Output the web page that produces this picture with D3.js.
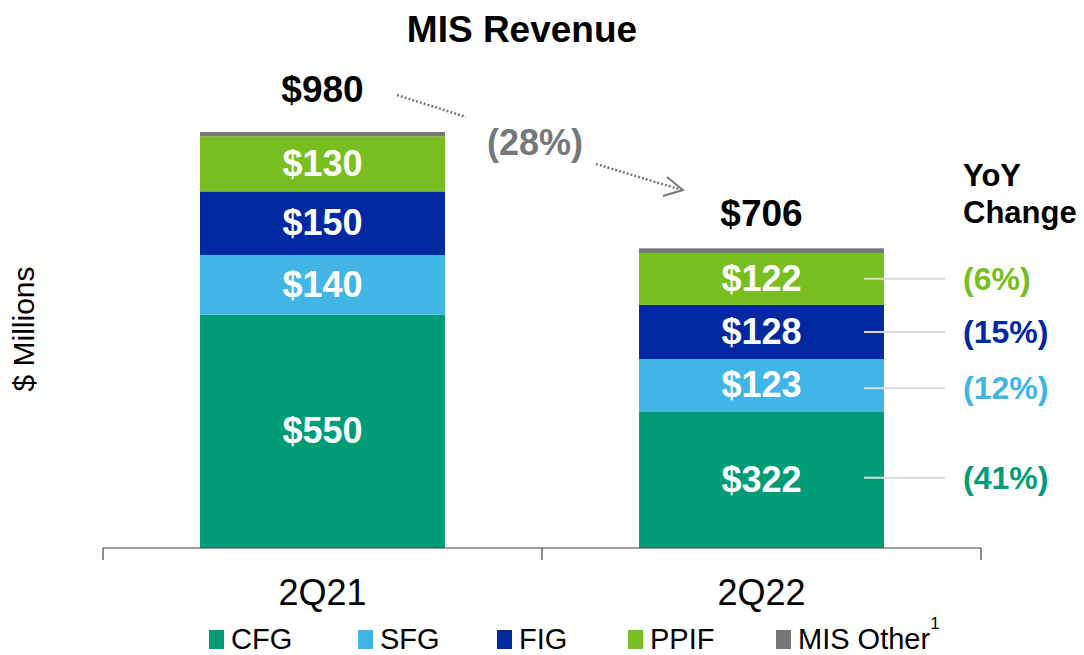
<!DOCTYPE html>
<html>
<head>
<meta charset="utf-8">
<script src="https://cdn.jsdelivr.net/npm/d3@7"></script>
<style>
  body { margin: 0; background: #fff; }
  svg text { font-family: "Liberation Sans", Arial, sans-serif; }
</style>
</head>
<body>
<svg id="chart" width="1084" height="655"></svg>
<script>
// data
var quarters = ["2Q21", "2Q22"]
var segments = ["CFG", "SFG", "FIG", "PPIF", "MIS Other"]
var cfg = [550, 322]
var sfg = [140, 123]
var fig = [150, 128]
var ppif = [130, 122]
var other = [10, 11]
var totals = [980, 706]
var yoyLabels = ["(41%)", "(12%)", "(15%)", "(6%)"]
var totalChange = "(28%)"
var colors = ["#009B77", "#41B6E6", "#0028A0", "#78BE20", "#75787B"]

function drawChart() {
    var svg = d3.select("#chart")

    var rows = quarters.map((q, i) => ({
        quarter: q, CFG: cfg[i], SFG: sfg[i], FIG: fig[i], PPIF: ppif[i], "MIS Other": other[i]
    }))
    var stacked = d3.stack().keys(segments)(rows)

    var xScale = d3.scaleBand()
        .domain(quarters)
        .range([103, 981])
        .paddingInner(0.442)
        .paddingOuter(0.221)
    var yScale = d3.scaleLinear()
        .domain([0, 980])
        .range([548, 132])
    var color = d3.scaleOrdinal().domain(segments).range(colors)

    // title
    svg.append("text")
        .attr("x", 522).attr("y", 42)
        .attr("text-anchor", "middle")
        .style("font-size", "37px").style("font-weight", "bold")
        .text("MIS Revenue")

    // y axis label
    svg.append("text")
        .attr("transform", "translate(34,329) rotate(-90)")
        .attr("text-anchor", "middle")
        .style("font-size", "30px")
        .text("$ Millions")

    // bars
    var layer = svg.append("g").selectAll("g")
        .data(stacked)
        .enter().append("g")
        .attr("fill", d => color(d.key))
    layer.selectAll("rect")
        .data(d => d)
        .enter().append("rect")
        .attr("x", d => xScale(d.data.quarter))
        .attr("width", xScale.bandwidth())
        .attr("y", d => yScale(d[1]))
        .attr("height", d => yScale(d[0]) - yScale(d[1]))

    // connector lines + yoy change labels
    var x2 = xScale("2Q22")
    var labelled = stacked.slice(0, 4)
    labelled.forEach((s, k) => {
        var seg = s[1]
        var yl = yScale((seg[0] + seg[1]) / 2)
        if (k == 0) yl -= 2
        if (k == 1) yl += 3
        svg.append("line")
            .attr("x1", x2 + xScale.bandwidth() - 20).attr("x2", 945)
            .attr("y1", yl).attr("y2", yl)
            .attr("stroke", "#D9D9D9").attr("stroke-width", 2)
        svg.append("text")
            .attr("x", 963).attr("y", yl + 11)
            .attr("fill", colors[k])
            .style("font-size", "32px").style("font-weight", "bold")
            .text(yoyLabels[k])
    })

    // segment value labels
    labelled.forEach(s => {
        s.forEach(d => {
            svg.append("text")
                .attr("x", xScale(d.data.quarter) + xScale.bandwidth() / 2)
                .attr("y", yScale((d[0] + d[1]) / 2) + 12)
                .attr("text-anchor", "middle")
                .attr("fill", "#fff")
                .style("font-size", "36px").style("font-weight", "bold")
                .text("$" + (d[1] - d[0]))
        })
    })

    // totals
    var totalGap = [30, 22]
    quarters.forEach((q, i) => {
        svg.append("text")
            .attr("x", xScale(q) + xScale.bandwidth() / 2)
            .attr("y", yScale(totals[i]) - totalGap[i])
            .attr("text-anchor", "middle")
            .style("font-size", "37px").style("font-weight", "bold")
            .text("$" + totals[i])
    })

    // yoy header
    svg.append("text").attr("x", 963).attr("y", 186)
        .style("font-size", "31px").style("font-weight", "bold").text("YoY")
    svg.append("text").attr("x", 963).attr("y", 223)
        .style("font-size", "31px").style("font-weight", "bold").text("Change")

    // total change, dotted arrow
    var grey = "#75787B"
    svg.append("line")
        .attr("x1", 397).attr("y1", 95).attr("x2", 466).attr("y2", 117)
        .attr("stroke", grey).attr("stroke-width", 2.5).attr("stroke-dasharray", "2,2")
    svg.append("line")
        .attr("x1", 596).attr("y1", 164).attr("x2", 682).attr("y2", 190)
        .attr("stroke", grey).attr("stroke-width", 2.5).attr("stroke-dasharray", "2,2")
    svg.append("path")
        .attr("d", d3.line()([[667, 177], [683, 190], [663, 196]]))
        .attr("fill", "none").attr("stroke", grey).attr("stroke-width", 2)
    svg.append("text")
        .attr("x", 535).attr("y", 155)
        .attr("text-anchor", "middle")
        .attr("fill", grey)
        .style("font-size", "36px").style("font-weight", "bold")
        .text(totalChange)

    // x axis
    var axis = svg.append("g")
        .attr("transform", "translate(0,548)")
    axis.append("line")
        .attr("x1", 103).attr("x2", 981).attr("y1", 0).attr("y2", 0)
        .attr("stroke", "#404040").attr("stroke-width", 1.2)
    var step = xScale.step()
    var bounds = [103, 103 + step, 981]
    axis.selectAll(".tick")
        .data(bounds)
        .enter().append("line")
        .attr("x1", d => d).attr("x2", d => d)
        .attr("y1", 0).attr("y2", 12)
        .attr("stroke", "#404040").attr("stroke-width", 1.2)
    axis.selectAll(".lbl")
        .data(quarters)
        .enter().append("text")
        .attr("x", d => xScale(d) + xScale.bandwidth() / 2)
        .attr("y", 57)
        .attr("text-anchor", "middle")
        .style("font-size", "36px")
        .text(d => d)

    // legend
    var legendX = [209, 358, 497, 628, 776]
    var legend = svg.append("g")
    segments.forEach((s, i) => {
        legend.append("rect")
            .attr("x", legendX[i]).attr("y", 630)
            .attr("width", 15).attr("height", 19)
            .attr("fill", colors[i])
        var t = legend.append("text")
            .attr("x", legendX[i] + 22).attr("y", 649)
            .style("font-size", "29px")
            .text(s)
        if (s == "MIS Other") {
            t.append("tspan").attr("dy", -20).style("font-size", "17px").text("1")
        }
    })
}
drawChart();
</script>
</body>
</html>
